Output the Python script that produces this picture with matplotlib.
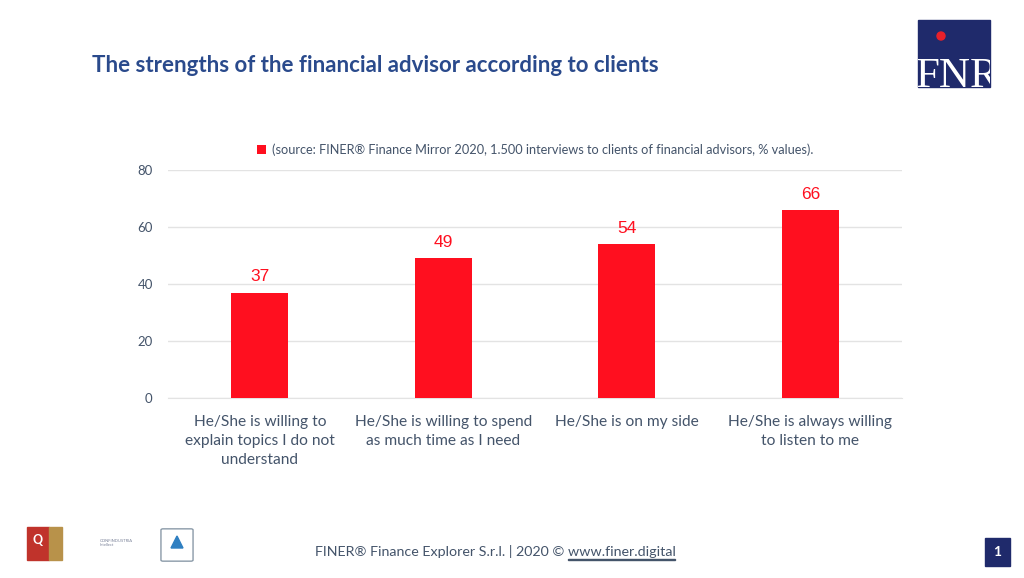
import matplotlib.pyplot as plt
import matplotlib.patches as patches
import numpy as np

# data
categories = ['He/She is willing to\nexplain topics I do not\nunderstand',
              'He/She is willing to spend\nas much time as I need',
              'He/She is on my side',
              'He/She is always willing\nto listen to me']
values = [37, 49, 54, 66]
yticks = [0, 20, 40, 60, 80]

title = 'The strengths of the financial advisor according to clients'
legend_label = '(source: FINER\u00ae Finance Mirror 2020, 1.500 interviews to clients of financial advisors, % values).'
footer = 'FINER\u00ae Finance Explorer S.r.l. | 2020 \u00a9 '
footer_link = 'www.finer.digital'

red = '#ff0f1f'
navy = '#1f2a6b'
textblue = '#44546a'
titleblue = '#2a4a8c'
font = ['Lato', 'DejaVu Sans']

plt.rcParams['font.family'] = font

fig = plt.figure(figsize=(10.24, 5.78), dpi=100)
ax = fig.add_axes([168/1024, 1-398/578, 734/1024, 228/578])

x = np.arange(len(categories))
bars = ax.bar(x, values, width=0.31, color=red, label=legend_label, zorder=3)
for b, v in zip(bars, values):
    ax.annotate(str(v), (b.get_x() + b.get_width()/2, v), xytext=(0, 6),
                textcoords='offset points', ha='center', va='bottom',
                color=red, fontsize=12.5, family=['Liberation Sans', 'DejaVu Sans'])

ax.set_xlim(-0.5, len(categories) - 0.5)
ax.set_ylim(0, 80)
ax.set_yticks(yticks)
ax.set_xticks(x)
ax.set_xticklabels(categories, fontsize=11.2, color=textblue, linespacing=1.45)
ax.tick_params(axis='both', length=0)
ax.tick_params(axis='x', pad=12)
ax.tick_params(axis='y', pad=11, labelsize=9.5, labelcolor=textblue)
ax.grid(axis='y', color='#e3e3e3', linewidth=1, zorder=0)
for s in ['top', 'right', 'left']:
    ax.spines[s].set_visible(False)
ax.spines['bottom'].set_color('#e3e3e3')

ax.legend(loc='lower center', bbox_to_anchor=(0.5, 1.01), frameon=False,
          fontsize=9.2, handlelength=0.7, handleheight=0.7, handletextpad=0.5,
          labelcolor=textblue)

# title
fig.text(92/1024, 1-66/578, title, fontsize=16, fontweight='bold',
         color=titleblue, va='center', ha='left')

# FNR logo
logo = patches.Rectangle((918/1024, 1-87/578), 72/1024, 67/578,
                         transform=fig.transFigure, color=navy)
fig.patches.append(logo)
fig.patches.append(patches.Ellipse((941/1024, 1-36/578), 8/1024, 8/578,
                                   transform=fig.transFigure, color='#e8202a'))
fnr = fig.text(916/1024, 1-87/578, 'FNR', fontsize=31, color='white',
               family=['Liberation Serif', 'DejaVu Serif'], ha='left', va='baseline')
fnr.set_clip_path(logo)

# footer with underlined link
fig.canvas.draw()
r = fig.canvas.get_renderer()
t = fig.text(495/1024, 1-551/578, footer + footer_link, fontsize=10.3,
             color=textblue, ha='center', va='center')
tmp = fig.text(0, 0, footer_link, fontsize=10.3)
wl = tmp.get_window_extent(r).width
tmp.remove()
bb = t.get_window_extent(r)
fig.patches.append(patches.Rectangle(((bb.x1 - wl)/1024, 1-560/578), wl/1024, 0.8/578,
                                     transform=fig.transFigure, color=textblue))

# page number
fig.patches.append(patches.Rectangle((985/1024, 1-566/578), 25/1024, 28/578,
                                     transform=fig.transFigure, color=navy))
fig.text(997.5/1024, 1-552/578, '1', fontsize=10, fontweight='bold',
         color='white', ha='center', va='center')

# small certification logos
fig.patches.append(patches.Rectangle((27/1024, 1-560/578), 22/1024, 33/578,
                                     transform=fig.transFigure, color='#c0332b'))
fig.text(38/1024, 1-540/578, 'Q', fontsize=9, fontweight='bold', color='white',
         ha='center', va='center')
fig.patches.append(patches.Rectangle((49/1024, 1-560/578), 13/1024, 33/578,
                                     transform=fig.transFigure, color='#b8924a'))
fig.text(100/1024, 1-543/578, 'CONFINDUSTRIA\nIntellect', fontsize=3,
         color='#7a8299', ha='left', va='center')
fig.patches.append(patches.FancyBboxPatch((163/1024, 1-560/578), 28/1024, 30/578,
                                          boxstyle='round,pad=0.002',
                                          transform=fig.transFigure,
                                          facecolor='white', edgecolor='#8a9aa8'))
fig.patches.append(patches.Polygon([(171/1024, 1-548/578), (183/1024, 1-548/578),
                                    (177/1024, 1-536/578)], closed=True,
                                   transform=fig.transFigure, color='#2f7fc1'))

fig.savefig('out.png', dpi=100)
